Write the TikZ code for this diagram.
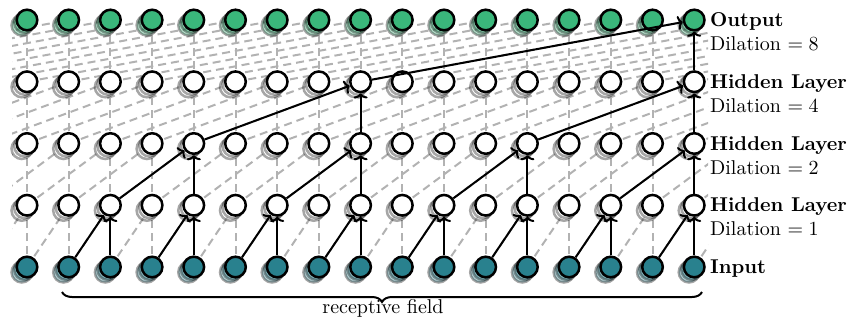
\documentclass[tikz,border=0pt]{standalone}
\usetikzlibrary{arrows.meta,decorations.pathreplacing,shadows}
\definecolor{outgreen}{RGB}{58,183,123}
\definecolor{inteal}{RGB}{41,129,142}
\definecolor{dashgray}{RGB}{178,178,178}
\tikzset{
  neuron/.style={circle, draw=black, line width=1.25pt, minimum size=10.3pt, inner sep=0pt, fill=#1,
    general shadow={shadow xshift=-2.6pt, shadow yshift=-2.6pt, opacity=0.35, fill=#1, draw=black},
    general shadow={shadow xshift=-1.3pt, shadow yshift=-1.3pt, opacity=0.35, fill=#1, draw=black}},
  dashlink/.style={dashgray, line width=1pt, dash pattern=on 4pt off 2.5pt},
  flow/.style={-{To[length=2.6pt,width=7pt]}, line width=1pt},
  layername/.style={anchor=base west, font=\bfseries, inner sep=0pt},
  dilationtext/.style={anchor=base west, inner sep=0pt},
}
\begin{document}
\begin{tikzpicture}[x=0.5pt,y=-0.5pt]
\useasboundingbox (0,0) rectangle (848,323);
% grid positions: layer l (0 = input, 4 = output), column i
\foreach \l in {0,...,4}{
  \foreach \i in {-8,...,24}{
    \coordinate (p-\l-\i) at ({27+41.7*\i},{267-61.75*\l});
  }
}
% all dilated connections, dashed, behind the units
\begin{scope}
  \clip (12,0) rectangle (708,323);
  \foreach \l/\d in {1/1,2/2,3/4,4/8}{
    \pgfmathtruncatemacro\pl{\l-1}
    \foreach \i in {-8,...,16}{
      \pgfmathtruncatemacro\j{\i+\d}
      \draw[dashlink] (p-\pl-\i) -- (p-\l-\j);
    }
    \foreach \i in {0,...,16}{
      \draw[dashlink] (p-\pl-\i) -- (p-\l-\i);
    }
  }
\end{scope}
% units
\foreach \i in {0,...,16}{
  \node[neuron=inteal] (n-0-\i) at (p-0-\i) {};
  \node[neuron=white] (n-1-\i) at (p-1-\i) {};
  \node[neuron=white] (n-2-\i) at (p-2-\i) {};
  \node[neuron=white] (n-3-\i) at (p-3-\i) {};
  \node[neuron=outgreen] (n-4-\i) at (p-4-\i) {};
}
% receptive field of the last output
\foreach \i in {2,4,...,16}{
  \pgfmathtruncatemacro\j{\i-1}
  \draw[flow] (n-0-\j) -- (n-1-\i);
  \draw[flow] (n-0-\i) -- (n-1-\i);
}
\foreach \i in {4,8,12,16}{
  \pgfmathtruncatemacro\j{\i-2}
  \draw[flow] (n-1-\j) -- (n-2-\i);
  \draw[flow] (n-1-\i) -- (n-2-\i);
}
\foreach \i in {8,16}{
  \pgfmathtruncatemacro\j{\i-4}
  \draw[flow] (n-2-\j) -- (n-3-\i);
  \draw[flow] (n-2-\i) -- (n-3-\i);
}
\draw[flow] (n-3-8) -- (n-4-16);
\draw[flow] (n-3-16) -- (n-4-16);
% layer labels
\node[layername] (lab-4) at ([shift={(15.5,6.5)}]n-4-16.center) {Output};
\node[dilationtext] (dil-4) at ([shift={(15.5,30.5)}]n-4-16.center) {Dilation $=8$};
\node[layername] (lab-3) at ([shift={(15.5,6.5)}]n-3-16.center) {Hidden Layer};
\node[dilationtext] (dil-3) at ([shift={(15.5,30.5)}]n-3-16.center) {Dilation $=4$};
\node[layername] (lab-2) at ([shift={(15.5,6.5)}]n-2-16.center) {Hidden Layer};
\node[dilationtext] (dil-2) at ([shift={(15.5,30.5)}]n-2-16.center) {Dilation $=2$};
\node[layername] (lab-1) at ([shift={(15.5,6.5)}]n-1-16.center) {Hidden Layer};
\node[dilationtext] (dil-1) at ([shift={(15.5,30.5)}]n-1-16.center) {Dilation $=1$};
\node[layername] (lab-0) at ([shift={(15.5,6.5)}]n-0-16.center) {Input};
% brace
\coordinate (brace-l) at (62,292);
\coordinate (brace-r) at (702,292);
\draw[decorate, decoration={brace, mirror, amplitude=5pt}, line width=1pt] (brace-l) -- (brace-r);
\node[anchor=base, inner sep=0pt] (rf) at (383,313) {receptive field};
\end{tikzpicture}
\end{document}
